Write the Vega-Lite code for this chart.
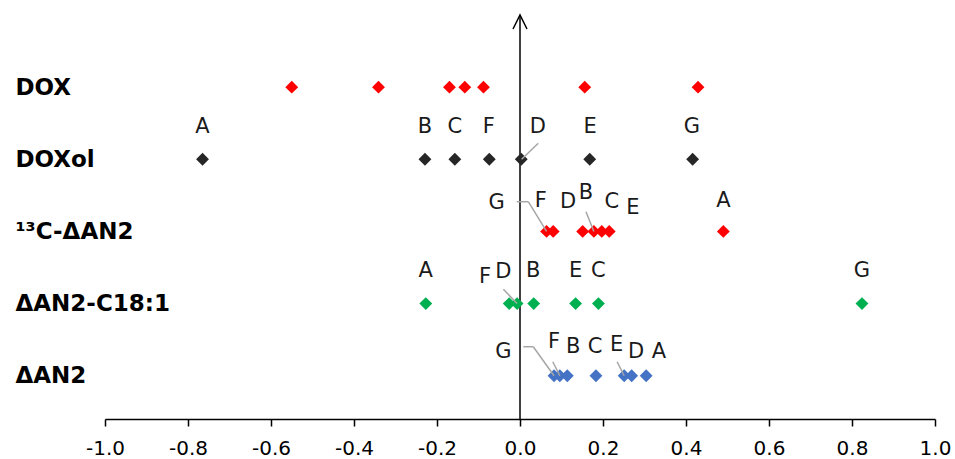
{
  "$schema": "https://vega.github.io/schema/vega-lite/v6.json",
  "width": 830,
  "height": 404,
  "autosize": {"type": "none"},
  "padding": {"left": 105, "top": 15, "right": 20, "bottom": 40},
  "config": {"view": {"stroke": null}, "font": "DejaVu Sans"},
  "datasets": {
    "pts": [
      {"s": "DOX", "x": -0.550, "y": 5}, {"s": "DOX", "x": -0.341, "y": 5}, {"s": "DOX", "x": -0.170, "y": 5}, {"s": "DOX", "x": -0.133, "y": 5}, {"s": "DOX", "x": -0.088, "y": 5}, {"s": "DOX", "x": 0.156, "y": 5}, {"s": "DOX", "x": 0.429, "y": 5},
      {"s": "DOXol", "x": -0.765, "y": 4}, {"s": "DOXol", "x": -0.229, "y": 4}, {"s": "DOXol", "x": -0.157, "y": 4}, {"s": "DOXol", "x": -0.074, "y": 4}, {"s": "DOXol", "x": 0.003, "y": 4}, {"s": "DOXol", "x": 0.168, "y": 4}, {"s": "DOXol", "x": 0.416, "y": 4},
      {"s": "13C", "x": 0.064, "y": 3}, {"s": "13C", "x": 0.080, "y": 3}, {"s": "13C", "x": 0.151, "y": 3}, {"s": "13C", "x": 0.178, "y": 3}, {"s": "13C", "x": 0.197, "y": 3}, {"s": "13C", "x": 0.215, "y": 3}, {"s": "13C", "x": 0.490, "y": 3},
      {"s": "C18", "x": -0.227, "y": 2}, {"s": "C18", "x": -0.026, "y": 2}, {"s": "C18", "x": -0.007, "y": 2}, {"s": "C18", "x": 0.033, "y": 2}, {"s": "C18", "x": 0.134, "y": 2}, {"s": "C18", "x": 0.189, "y": 2}, {"s": "C18", "x": 0.824, "y": 2},
      {"s": "AN2", "x": 0.082, "y": 1}, {"s": "AN2", "x": 0.096, "y": 1}, {"s": "AN2", "x": 0.114, "y": 1}, {"s": "AN2", "x": 0.183, "y": 1}, {"s": "AN2", "x": 0.251, "y": 1}, {"s": "AN2", "x": 0.269, "y": 1}, {"s": "AN2", "x": 0.304, "y": 1}
    ],
    "labels": [
      {"t": "A", "x": -0.765, "y": 4.443}, {"t": "B", "x": -0.229, "y": 4.443}, {"t": "C", "x": -0.157, "y": 4.443}, {"t": "F", "x": -0.075, "y": 4.443}, {"t": "D", "x": 0.043, "y": 4.443}, {"t": "E", "x": 0.169, "y": 4.443}, {"t": "G", "x": 0.414, "y": 4.443},
      {"t": "G", "x": -0.056, "y": 3.398}, {"t": "F", "x": 0.050, "y": 3.426}, {"t": "D", "x": 0.116, "y": 3.412}, {"t": "B", "x": 0.159, "y": 3.528}, {"t": "C", "x": 0.221, "y": 3.412}, {"t": "E", "x": 0.272, "y": 3.321}, {"t": "A", "x": 0.490, "y": 3.426},
      {"t": "A", "x": -0.227, "y": 2.456}, {"t": "F", "x": -0.084, "y": 2.372}, {"t": "D", "x": -0.040, "y": 2.442}, {"t": "B", "x": 0.032, "y": 2.456}, {"t": "E", "x": 0.134, "y": 2.456}, {"t": "C", "x": 0.189, "y": 2.456}, {"t": "G", "x": 0.824, "y": 2.456},
      {"t": "G", "x": -0.040, "y": 1.333}, {"t": "F", "x": 0.082, "y": 1.471}, {"t": "B", "x": 0.128, "y": 1.402}, {"t": "C", "x": 0.181, "y": 1.402}, {"t": "E", "x": 0.233, "y": 1.426}, {"t": "D", "x": 0.280, "y": 1.333}, {"t": "A", "x": 0.335, "y": 1.333}
    ],
    "leaders": [
      {"x": 0.044, "y": 4.222, "x2": 0.004, "y2": 4.0},
      {"x": -0.008, "y": 3.412, "x2": 0.020, "y2": 3.412},
      {"x": 0.020, "y": 3.412, "x2": 0.064, "y2": 3.0},
      {"x": 0.159, "y": 3.273, "x2": 0.178, "y2": 3.0},
      {"x": -0.040, "y": 2.198, "x2": -0.007, "y2": 2.0},
      {"x": 0.008, "y": 1.402, "x2": 0.032, "y2": 1.402},
      {"x": 0.032, "y": 1.402, "x2": 0.082, "y2": 1.0},
      {"x": 0.079, "y": 1.194, "x2": 0.096, "y2": 1.0},
      {"x": 0.234, "y": 1.194, "x2": 0.251, "y2": 1.0}
    ],
    "vline": [{"x": 0, "y": 0.4, "y2": 6}],
    "arrow": [{"x": 0, "y": 6}]
  },
  "encoding": {
    "x": {
      "field": "x", "type": "quantitative",
      "scale": {"domain": [-1, 1], "nice": false, "zero": false},
      "axis": {
        "values": [-1, -0.8, -0.6, -0.4, -0.2, 0, 0.2, 0.4, 0.6, 0.8, 1],
        "labelExpr": "replace(format(datum.value, '.1f'), '\u2212', '-')",
        "grid": false, "title": null,
        "domainColor": "#000000", "domainWidth": 1.5,
        "tickColor": "#000000", "tickWidth": 1.5, "tickSize": 7,
        "labelFont": "DejaVu Sans", "labelFontSize": 20, "labelColor": "#000000",
        "labelPadding": 12, "labelOverlap": false, "labelFlush": false
      }
    },
    "y": {
      "field": "y", "type": "quantitative",
      "scale": {"domain": [0.4, 6], "nice": false, "zero": false},
      "axis": {
        "values": [1, 2, 3, 4, 5],
        "labelExpr": "datum.value == 5 ? 'DOX' : datum.value == 4 ? 'DOXol' : datum.value == 3 ? '\u00b9\u00b3C-\u0394AN2' : datum.value == 2 ? '\u0394AN2-C18:1' : '\u0394AN2'",
        "domain": false, "ticks": false, "tickSize": 0, "grid": false, "title": null,
        "labelAlign": "left", "labelBaseline": "middle", "labelPadding": 90,
        "labelFont": "DejaVu Sans", "labelFontSize": 23, "labelFontWeight": "bold", "labelColor": "#000000"
      }
    }
  },
  "layer": [
    {
      "data": {"name": "vline"},
      "mark": {"type": "rule", "color": "#000000", "strokeWidth": 1.5},
      "encoding": {"y2": {"field": "y2"}}
    },
    {
      "data": {"name": "arrow"},
      "mark": {"type": "point", "shape": "M-1,2L0,0L1,2", "size": 196, "filled": false, "stroke": "#000000", "strokeWidth": 1.5, "opacity": 1}
    },
    {
      "data": {"name": "pts"},
      "mark": {"type": "point", "shape": "diamond", "filled": true, "size": 165, "opacity": 1, "strokeWidth": 0},
      "encoding": {
        "color": {
          "field": "s", "type": "nominal", "legend": null,
          "scale": {"domain": ["DOX", "DOXol", "13C", "C18", "AN2"], "range": ["#FF0000", "#262626", "#FF0000", "#00B050", "#4472C4"]}
        }
      }
    },
    {
      "data": {"name": "leaders"},
      "mark": {"type": "rule", "color": "#A6A6A6", "strokeWidth": 1.5},
      "encoding": {"x2": {"field": "x2"}, "y2": {"field": "y2"}}
    },
    {
      "data": {"name": "labels"},
      "mark": {"type": "text", "font": "DejaVu Sans", "fontSize": 21, "align": "center", "baseline": "middle", "color": "#1A1A1A"},
      "encoding": {"text": {"field": "t"}}
    }
  ]
}
